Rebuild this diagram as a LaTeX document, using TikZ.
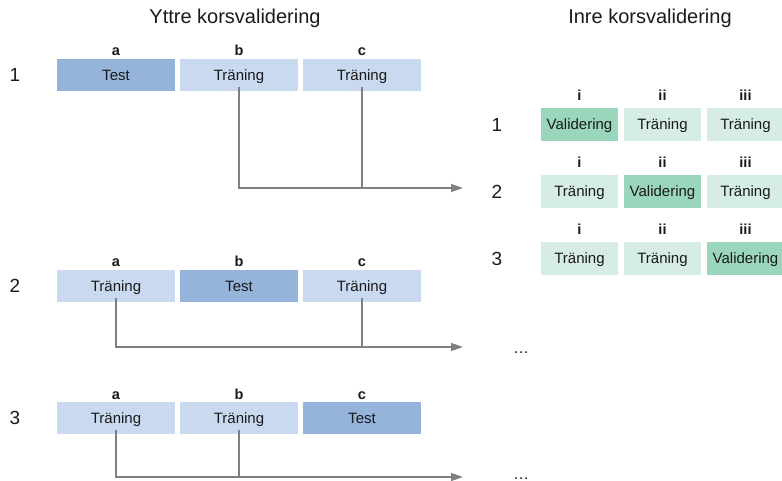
\documentclass[tikz,border=0pt]{standalone}
\usepackage{fontspec}
\setmainfont{Liberation Sans}
\usepackage{tikz}
\usetikzlibrary{arrows.meta, positioning}

\definecolor{testblue}{HTML}{96B3DA}
\definecolor{trainblue}{HTML}{C9D9EF}
\definecolor{valgreen}{HTML}{9AD6BC}
\definecolor{innergreen}{HTML}{D5EDE2}
\definecolor{linegray}{HTML}{808080}
\definecolor{ink}{HTML}{1A1A1A}

\tikzset{
	cell/.style={minimum width=118pt, minimum height=32pt, inner sep=0pt, text=ink,
		text height=10.7pt, text depth=0pt, font=\fontsize{15}{17}\selectfont},
	testcell/.style={cell, fill=testblue},
	traincell/.style={cell, fill=trainblue},
	smallcell/.style={cell, minimum width=77pt, minimum height=33pt},
	valcell/.style={smallcell, fill=valgreen},
	innercell/.style={smallcell, fill=innergreen},
	letter/.style={anchor=base, inner sep=0pt, text=ink, font=\fontsize{14.5}{16}\selectfont\bfseries},
	rownum/.style={inner sep=0pt, text=ink, font=\fontsize{19}{21}\selectfont},
	heading/.style={inner sep=0pt, text=ink, font=\fontsize{20}{22}\selectfont},
	more/.style={anchor=base, inner sep=0pt, text=ink, font=\fontsize{16}{18}\selectfont},
	flow/.style={draw=linegray, line width=1.3pt, -{Triangle[length=12pt,width=8pt]}},
	branch/.style={draw=linegray, line width=1.3pt},
}

\begin{document}
\begin{tikzpicture}[x=1pt, y=-1pt]
	\useasboundingbox (0,0) rectangle (782,481);
	
	% Headings
	\node[heading] (outer) at (235,18) {Yttre korsvalidering};
	\node[heading] (inner) at (650,18) {Inre korsvalidering};
	
	% Outer folds: one test block per row
	\foreach \r/\y in {1/75,2/286,3/418}{
		\node[rownum] (n\r) at (15,\y) {\r};
		\foreach \c/\x/\k in {a/116/1,b/239/2,c/362/3}{
			\def\sty{traincell}\def\txt{Träning}
			\ifnum\k=\r \def\sty{testcell}\def\txt{Test}\fi
			\node[\sty] (\c\r) at (\x,\y) {\txt};
			\node[letter] (l\c\r) at (\x,\y-19) {\c};
		}
	}
	
	% Inner folds: one validation block per row
	\foreach \r/\y in {1/124.5,2/191.5,3/258.5}{
		\node[rownum] (m\r) at (497,\y) {\r};
		\foreach \c/\x/\k in {i/579.5/1,ii/662.5/2,iii/745.5/3}{
			\def\sty{innercell}\def\txt{Träning}
			\ifnum\k=\r \def\sty{valcell}\def\txt{Validering}\fi
			\node[\sty] (\c\r) at (\x,\y) {\txt};
			\node[letter] (l\c\r) at (\x,\y-23.5) {\c};
		}
	}
	
	% Training blocks go on to the inner loop
	\coordinate (e1) at (463,188);
	\coordinate (e2) at (463,347);
	\coordinate (e3) at (463,477);
	\draw[flow] ([yshift=4pt]b1.south) |- (e1);
	\draw[branch] ([yshift=4pt]c1.south) -- (c1.south |- e1);
	\draw[flow] ([yshift=4pt]a2.south) |- (e2);
	\draw[branch] ([yshift=4pt]c2.south) -- (c2.south |- e2);
	\draw[flow] ([yshift=4pt]a3.south) |- (e3);
	\draw[branch] ([yshift=4pt]b3.south) -- (b3.south |- e3);
	
	\node[more] (d2) at (521,353) {…};
	\node[more] (d3) at (521,479) {…};
\end{tikzpicture}
\end{document}
